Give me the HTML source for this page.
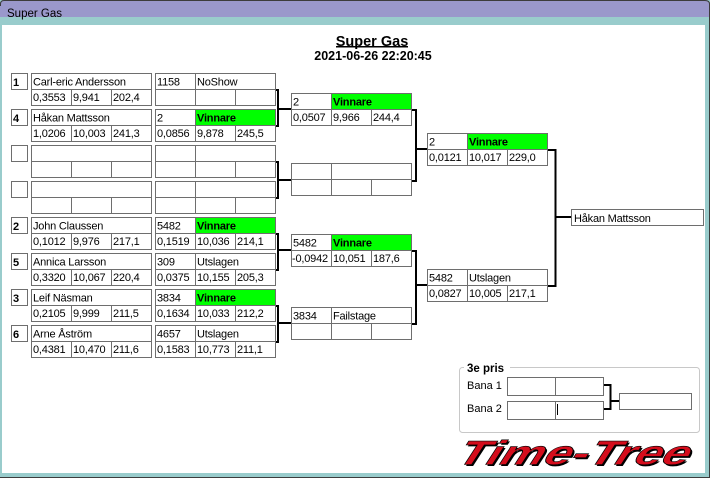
<!DOCTYPE html>
<html><head><meta charset="utf-8"><style>
html,body{margin:0;padding:0;background:#fff;}
svg{display:block;}
text{font-family:"Liberation Sans",sans-serif;font-size:11px;fill:#000;letter-spacing:-0.2px;}
.b{font-weight:bold;}
.c{fill:#fff;stroke:#6e6e6e;stroke-width:1;}
.g{fill:#00ff00;stroke:#6e6e6e;stroke-width:1;}
.k{fill:none;stroke:#000;stroke-width:2;}
</style></head><body>
<svg width="710" height="478" viewBox="0 0 710 478" xmlns="http://www.w3.org/2000/svg">
<!-- window frame -->
<rect x="0" y="0" width="710" height="478" fill="#99cccc"/>
<path d="M0 17 V4 Q0 0 4 0 H705 Q710 0 710 4 V17 Z" fill="#9a98cb"/>
<path d="M0.5 6 V4 Q0.5 0.5 4 0.5 H705 Q709.5 0.5 709.5 4 V477.5 H0" fill="none" stroke="#3c3c3c"/>
<rect x="2" y="25" width="703" height="448" fill="#fff"/>
<text x="7" y="17" style="font-size:11.5px;letter-spacing:0">Super Gas</text>

<!-- title -->
<text x="372" y="46" text-anchor="middle" class="b" style="font-size:14.5px;letter-spacing:0">Super Gas</text>
<rect x="336" y="46" width="72" height="1.5" fill="#000"/>
<text x="373" y="60" text-anchor="middle" class="b" style="font-size:12.5px;letter-spacing:0">2021-06-26 22:20:45</text>

<!-- ROUND 1 left entries -->
<g transform="translate(0,73)">
<rect class="c" x="11.5" y=".5" width="16" height="16"/><rect class="c" x="31.5" y=".5" width="120" height="16"/>
<rect class="c" x="31.5" y="16.5" width="40" height="16"/><rect class="c" x="71.5" y="16.5" width="40" height="16"/><rect class="c" x="111.5" y="16.5" width="40" height="16"/>
<text class="b" x="13" y="13">1</text><text x="33" y="12.5">Carl-eric Andersson</text>
<text x="33" y="28">0,3553</text><text x="73" y="28">9,941</text><text x="113" y="28">202,4</text>
</g>
<g transform="translate(0,109)">
<rect class="c" x="11.5" y=".5" width="16" height="16"/><rect class="c" x="31.5" y=".5" width="120" height="16"/>
<rect class="c" x="31.5" y="16.5" width="40" height="16"/><rect class="c" x="71.5" y="16.5" width="40" height="16"/><rect class="c" x="111.5" y="16.5" width="40" height="16"/>
<text class="b" x="13" y="13">4</text><text x="33" y="12.5">Håkan Mattsson</text>
<text x="33" y="28">1,0206</text><text x="73" y="28">10,003</text><text x="113" y="28">241,3</text>
</g>
<g transform="translate(0,145)">
<rect class="c" x="11.5" y=".5" width="16" height="16"/><rect class="c" x="31.5" y=".5" width="120" height="16"/>
<rect class="c" x="31.5" y="16.5" width="40" height="16"/><rect class="c" x="71.5" y="16.5" width="40" height="16"/><rect class="c" x="111.5" y="16.5" width="40" height="16"/>
</g>
<g transform="translate(0,181)">
<rect class="c" x="11.5" y=".5" width="16" height="16"/><rect class="c" x="31.5" y=".5" width="120" height="16"/>
<rect class="c" x="31.5" y="16.5" width="40" height="16"/><rect class="c" x="71.5" y="16.5" width="40" height="16"/><rect class="c" x="111.5" y="16.5" width="40" height="16"/>
</g>
<g transform="translate(0,217)">
<rect class="c" x="11.5" y=".5" width="16" height="16"/><rect class="c" x="31.5" y=".5" width="120" height="16"/>
<rect class="c" x="31.5" y="16.5" width="40" height="16"/><rect class="c" x="71.5" y="16.5" width="40" height="16"/><rect class="c" x="111.5" y="16.5" width="40" height="16"/>
<text class="b" x="13" y="13">2</text><text x="33" y="12.5">John Claussen</text>
<text x="33" y="28">0,1012</text><text x="73" y="28">9,976</text><text x="113" y="28">217,1</text>
</g>
<g transform="translate(0,253)">
<rect class="c" x="11.5" y=".5" width="16" height="16"/><rect class="c" x="31.5" y=".5" width="120" height="16"/>
<rect class="c" x="31.5" y="16.5" width="40" height="16"/><rect class="c" x="71.5" y="16.5" width="40" height="16"/><rect class="c" x="111.5" y="16.5" width="40" height="16"/>
<text class="b" x="13" y="13">5</text><text x="33" y="12.5">Annica Larsson</text>
<text x="33" y="28">0,3320</text><text x="73" y="28">10,067</text><text x="113" y="28">220,4</text>
</g>
<g transform="translate(0,289)">
<rect class="c" x="11.5" y=".5" width="16" height="16"/><rect class="c" x="31.5" y=".5" width="120" height="16"/>
<rect class="c" x="31.5" y="16.5" width="40" height="16"/><rect class="c" x="71.5" y="16.5" width="40" height="16"/><rect class="c" x="111.5" y="16.5" width="40" height="16"/>
<text class="b" x="13" y="13">3</text><text x="33" y="12.5">Leif Näsman</text>
<text x="33" y="28">0,2105</text><text x="73" y="28">9,999</text><text x="113" y="28">211,5</text>
</g>
<g transform="translate(0,325)">
<rect class="c" x="11.5" y=".5" width="16" height="16"/><rect class="c" x="31.5" y=".5" width="120" height="16"/>
<rect class="c" x="31.5" y="16.5" width="40" height="16"/><rect class="c" x="71.5" y="16.5" width="40" height="16"/><rect class="c" x="111.5" y="16.5" width="40" height="16"/>
<text class="b" x="13" y="13">6</text><text x="33" y="12.5">Arne Åström</text>
<text x="33" y="28">0,4381</text><text x="73" y="28">10,470</text><text x="113" y="28">211,6</text>
</g>

<!-- ROUND 1 results -->
<g transform="translate(155,73)">
<rect class="c" x=".5" y=".5" width="40" height="16"/><rect class="c" x="40.5" y=".5" width="80" height="16"/>
<rect class="c" x=".5" y="16.5" width="40" height="16"/><rect class="c" x="40.5" y="16.5" width="40" height="16"/><rect class="c" x="80.5" y="16.5" width="40" height="16"/>
<text x="2" y="12.5">1158</text><text x="42" y="12.5">NoShow</text>
</g>
<g transform="translate(155,109)">
<rect class="c" x=".5" y=".5" width="40" height="16"/><rect class="g" x="40.5" y=".5" width="80" height="16"/>
<rect class="c" x=".5" y="16.5" width="40" height="16"/><rect class="c" x="40.5" y="16.5" width="40" height="16"/><rect class="c" x="80.5" y="16.5" width="40" height="16"/>
<text x="2" y="12.5">2</text><text class="b" x="42" y="12.5">Vinnare</text>
<text x="2" y="28">0,0856</text><text x="42" y="28">9,878</text><text x="82" y="28">245,5</text>
</g>
<g transform="translate(155,145)">
<rect class="c" x=".5" y=".5" width="40" height="16"/><rect class="c" x="40.5" y=".5" width="80" height="16"/>
<rect class="c" x=".5" y="16.5" width="40" height="16"/><rect class="c" x="40.5" y="16.5" width="40" height="16"/><rect class="c" x="80.5" y="16.5" width="40" height="16"/>
</g>
<g transform="translate(155,181)">
<rect class="c" x=".5" y=".5" width="40" height="16"/><rect class="c" x="40.5" y=".5" width="80" height="16"/>
<rect class="c" x=".5" y="16.5" width="40" height="16"/><rect class="c" x="40.5" y="16.5" width="40" height="16"/><rect class="c" x="80.5" y="16.5" width="40" height="16"/>
</g>
<g transform="translate(155,217)">
<rect class="c" x=".5" y=".5" width="40" height="16"/><rect class="g" x="40.5" y=".5" width="80" height="16"/>
<rect class="c" x=".5" y="16.5" width="40" height="16"/><rect class="c" x="40.5" y="16.5" width="40" height="16"/><rect class="c" x="80.5" y="16.5" width="40" height="16"/>
<text x="2" y="12.5">5482</text><text class="b" x="42" y="12.5">Vinnare</text>
<text x="2" y="28">0,1519</text><text x="42" y="28">10,036</text><text x="82" y="28">214,1</text>
</g>
<g transform="translate(155,253)">
<rect class="c" x=".5" y=".5" width="40" height="16"/><rect class="c" x="40.5" y=".5" width="80" height="16"/>
<rect class="c" x=".5" y="16.5" width="40" height="16"/><rect class="c" x="40.5" y="16.5" width="40" height="16"/><rect class="c" x="80.5" y="16.5" width="40" height="16"/>
<text x="2" y="12.5">309</text><text x="42" y="12.5">Utslagen</text>
<text x="2" y="28">0,0375</text><text x="42" y="28">10,155</text><text x="82" y="28">205,3</text>
</g>
<g transform="translate(155,289)">
<rect class="c" x=".5" y=".5" width="40" height="16"/><rect class="g" x="40.5" y=".5" width="80" height="16"/>
<rect class="c" x=".5" y="16.5" width="40" height="16"/><rect class="c" x="40.5" y="16.5" width="40" height="16"/><rect class="c" x="80.5" y="16.5" width="40" height="16"/>
<text x="2" y="12.5">3834</text><text class="b" x="42" y="12.5">Vinnare</text>
<text x="2" y="28">0,1634</text><text x="42" y="28">10,033</text><text x="82" y="28">212,2</text>
</g>
<g transform="translate(155,325)">
<rect class="c" x=".5" y=".5" width="40" height="16"/><rect class="c" x="40.5" y=".5" width="80" height="16"/>
<rect class="c" x=".5" y="16.5" width="40" height="16"/><rect class="c" x="40.5" y="16.5" width="40" height="16"/><rect class="c" x="80.5" y="16.5" width="40" height="16"/>
<text x="2" y="12.5">4657</text><text x="42" y="12.5">Utslagen</text>
<text x="2" y="28">0,1583</text><text x="42" y="28">10,773</text><text x="82" y="28">211,1</text>
</g>

<!-- ROUND 2 -->
<g transform="translate(291,93)">
<rect class="c" x=".5" y=".5" width="40" height="16"/><rect class="g" x="40.5" y=".5" width="80" height="16"/>
<rect class="c" x=".5" y="16.5" width="40" height="16"/><rect class="c" x="40.5" y="16.5" width="40" height="16"/><rect class="c" x="80.5" y="16.5" width="40" height="16"/>
<text x="2" y="12.5">2</text><text class="b" x="42" y="12.5">Vinnare</text>
<text x="2" y="28">0,0507</text><text x="42" y="28">9,966</text><text x="82" y="28">244,4</text>
</g>
<g transform="translate(291,163)">
<rect class="c" x=".5" y=".5" width="40" height="16"/><rect class="c" x="40.5" y=".5" width="80" height="16"/>
<rect class="c" x=".5" y="16.5" width="40" height="16"/><rect class="c" x="40.5" y="16.5" width="40" height="16"/><rect class="c" x="80.5" y="16.5" width="40" height="16"/>
</g>
<g transform="translate(291,234)">
<rect class="c" x=".5" y=".5" width="40" height="16"/><rect class="g" x="40.5" y=".5" width="80" height="16"/>
<rect class="c" x=".5" y="16.5" width="40" height="16"/><rect class="c" x="40.5" y="16.5" width="40" height="16"/><rect class="c" x="80.5" y="16.5" width="40" height="16"/>
<text x="2" y="12.5">5482</text><text class="b" x="42" y="12.5">Vinnare</text>
<text x="1" y="28">-0,0942</text><text x="42" y="28">10,051</text><text x="82" y="28">187,6</text>
</g>
<g transform="translate(291,307)">
<rect class="c" x=".5" y=".5" width="40" height="16"/><rect class="c" x="40.5" y=".5" width="80" height="16"/>
<rect class="c" x=".5" y="16.5" width="40" height="16"/><rect class="c" x="40.5" y="16.5" width="40" height="16"/><rect class="c" x="80.5" y="16.5" width="40" height="16"/>
<text x="2" y="12.5">3834</text><text x="42" y="12.5">Failstage</text>
</g>

<!-- ROUND 3 -->
<g transform="translate(427,133)">
<rect class="c" x=".5" y=".5" width="40" height="16"/><rect class="g" x="40.5" y=".5" width="80" height="16"/>
<rect class="c" x=".5" y="16.5" width="40" height="16"/><rect class="c" x="40.5" y="16.5" width="40" height="16"/><rect class="c" x="80.5" y="16.5" width="40" height="16"/>
<text x="2" y="12.5">2</text><text class="b" x="42" y="12.5">Vinnare</text>
<text x="2" y="28">0,0121</text><text x="42" y="28">10,017</text><text x="82" y="28">229,0</text>
</g>
<g transform="translate(427,269)">
<rect class="c" x=".5" y=".5" width="40" height="16"/><rect class="c" x="40.5" y=".5" width="80" height="16"/>
<rect class="c" x=".5" y="16.5" width="40" height="16"/><rect class="c" x="40.5" y="16.5" width="40" height="16"/><rect class="c" x="80.5" y="16.5" width="40" height="16"/>
<text x="2" y="12.5">5482</text><text x="42" y="12.5">Utslagen</text>
<text x="2" y="28">0,0827</text><text x="42" y="28">10,005</text><text x="82" y="28">217,1</text>
</g>

<!-- FINAL -->
<rect class="c" x="571.5" y="209.5" width="132" height="16"/>
<text x="574" y="222">Håkan Mattsson</text>

<!-- brackets round 1 -->
<path class="k" d="M276 90 H278 V126 H276 M278 109 H291"/>
<path class="k" d="M276 162 H278 V198 H276 M278 180 H291"/>
<path class="k" d="M276 234 H278 V270 H276 M278 250 H291"/>
<path class="k" d="M276 306 H278 V342 H276 M278 323 H291"/>
<!-- brackets round 2 -->
<path class="k" d="M412 110 H416 V181 H412 M416 149 H427"/>
<path class="k" d="M412 251 H416 V324 H412 M416 285 H427"/>
<!-- bracket round 3 -->
<path class="k" d="M548 150 H555.5 V286 H548 M555.5 217 H571"/>

<!-- 3e pris -->
<rect x="459.5" y="367.5" width="240" height="65" rx="3" fill="none" stroke="#c8c8c8"/>
<rect x="464" y="360" width="46" height="14" fill="#fff"/>
<text class="b" x="467" y="372" style="font-size:11.5px;letter-spacing:0">3e pris</text>
<text x="467" y="389" style="letter-spacing:0">Bana 1</text>
<text x="467" y="412" style="letter-spacing:0">Bana 2</text>
<rect class="c" x="507.5" y="377.5" width="96" height="18"/>
<line x1="555.5" y1="378" x2="555.5" y2="395" stroke="#6e6e6e"/>
<rect class="c" x="507.5" y="401.5" width="96" height="18"/>
<line x1="555.5" y1="402" x2="555.5" y2="419" stroke="#6e6e6e"/>
<line x1="557.5" y1="404" x2="557.5" y2="415" stroke="#000"/>
<path class="k" d="M604 385 H610.5 V409 H604 M610.5 401 H619"/>
<rect class="c" x="619.5" y="393.5" width="72" height="16"/>

<!-- logo -->
<g transform="translate(454.5,466) skewX(-33) scale(1.45,1)">
<text x="0" y="0" class="b" style="font-size:34px;letter-spacing:0;fill:#000">Time-Tree</text>
</g>
<g transform="translate(453,464.5) skewX(-33) scale(1.45,1)">
<text x="0" y="0" class="b" style="font-size:34px;letter-spacing:0;fill:#d40d1c;stroke:#000;stroke-width:0.6px">Time-Tree</text>
</g>
</svg>
</body></html>
